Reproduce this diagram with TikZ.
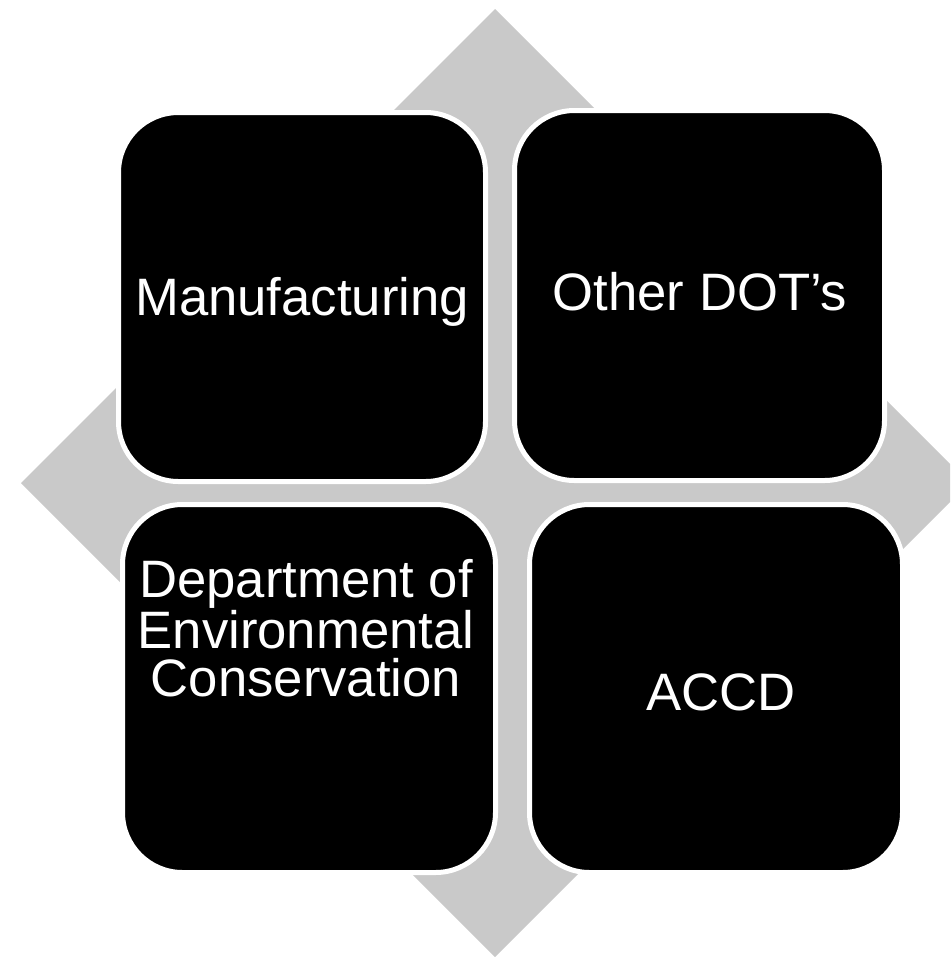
\documentclass[tikz,border=0pt]{standalone}
\usepackage{fontspec}
\setmainfont{Liberation Sans}
\usetikzlibrary{positioning}
\definecolor{diamondgray}{RGB}{201,201,201}

\begin{document}
\begin{tikzpicture}[x=0.75pt,y=-0.75pt,
    cell/.style={fill=black, draw=white, line width=3.75pt, rounded corners=45pt},
    lbl/.style={text=white, align=center, font=\fontsize{39.5}{36}\selectfont}]
        \useasboundingbox (0,0) rectangle (950,957);
        \clip (0,0) rectangle (950,957);

        % background diamond
        \fill[diamondgray] (495,9) -- (969,483) -- (495,957) -- (21,483) -- cycle;

        % the four cells
        \draw[cell] (118.5,112.5) rectangle (485.5,481.5); % top left
        \draw[cell] (514.5,110.5) rectangle (884.5,480.5); % top right
        \draw[cell] (122.5,504.5) rectangle (495.5,872.5); % bottom left
        \draw[cell] (529.5,504.5) rectangle (902.5,872.5); % bottom right

        \node[lbl] (mfg) at (302,302) {Manufacturing};
        \node[lbl] (dots) at (700,292) {Other DOT’s};
        \node[lbl] (dec) at (306,628) {Department of\\Environmental\\Conservation};
        \node[lbl] (accd) at (721,692) {ACCD};
    \end{tikzpicture}
\end{document}
